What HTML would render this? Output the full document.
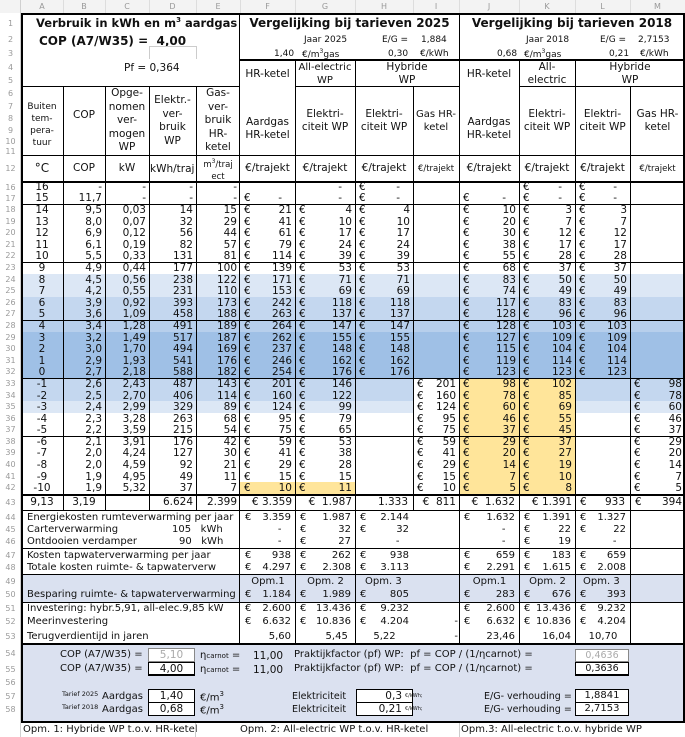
<!DOCTYPE html>
<html><head><meta charset="utf-8"><style>
body{margin:0}
#p{position:relative;width:685px;height:737px;overflow:hidden;background:#fff;font-family:"DejaVu Sans","Liberation Sans",sans-serif;font-size:10px;color:#111}
.a{position:absolute;white-space:nowrap;line-height:1}
.rw{display:grid;grid-template-columns:21px 42px 42px 44px 47px 44px 55px 60px 58px 46px 60px 56px 55px 55px}
.rw>div{overflow:hidden;white-space:nowrap;box-sizing:border-box}
.rw>div:first-child{background:#fff;color:#9a9a9a;font-size:8px;text-align:center}
.rw>div:nth-child(2){text-align:center}
.n>div:nth-child(n+3):nth-child(-n+6){text-align:right;padding-right:3px}
.n>div:nth-child(n+7){display:flex;justify-content:space-between;padding:0 3px 0 4px}
.dd .rw{height:11.6px;line-height:12px;font-size:10.5px}
.v{position:absolute;width:1px;background:#000}
.h{position:absolute;height:1px;background:#000}
.cl{position:absolute;top:0;height:13px;line-height:13px;font-size:8px;color:#999;text-align:center}
.rn{position:absolute;left:0;width:21px;text-align:center;font-size:8px;color:#9a9a9a}
.c{position:absolute;text-align:center;line-height:13px;font-size:10.5px;white-space:nowrap}
.bx{position:absolute;border:1px solid #000;box-sizing:border-box;text-align:center;font-size:10.5px;line-height:12px;background:#fff}
.lo{display:grid;grid-template-columns:21px 219px 55px 60px 58px 46px 60px 56px 55px 55px}
.lo>div{overflow:hidden;white-space:nowrap;box-sizing:border-box}
.lo>div:first-child{color:#9a9a9a;font-size:8px;text-align:center}
.lo>div:nth-child(2){padding-left:6px}
.lo>div:nth-child(n+3){display:flex;justify-content:space-between;padding:0 4px 0 5px}
</style></head><body><div id="p">

<div style="position:absolute;left:0;top:0;width:685px;height:13px;background:#f3f3f3"></div>
<div class="cl" style="left:21px;width:42px">A</div><div class="cl" style="left:63px;width:42px">B</div><div class="cl" style="left:105px;width:44px">C</div><div class="cl" style="left:149px;width:47px">D</div><div class="cl" style="left:196px;width:44px">E</div><div class="cl" style="left:240px;width:55px">F</div><div class="cl" style="left:295px;width:60px">G</div><div class="cl" style="left:355px;width:58px">H</div><div class="cl" style="left:413px;width:46px">I</div><div class="cl" style="left:459px;width:60px">J</div><div class="cl" style="left:519px;width:56px">K</div><div class="cl" style="left:575px;width:55px">L</div><div class="cl" style="left:630px;width:55px">M</div>

<div class="rn" style="top:19px">1</div><div class="rn" style="top:35px">2</div><div class="rn" style="top:49px">3</div><div class="rn" style="top:63px">4</div><div class="rn" style="top:76px">5</div><div class="rn" style="top:89px">6</div><div class="rn" style="top:102px">7</div><div class="rn" style="top:114px">8</div><div class="rn" style="top:126px">9</div><div class="rn" style="top:137px">10</div><div class="rn" style="top:147px">11</div><div class="rn" style="top:164px">12</div>
<div class="rn" style="top:649px">54</div><div class="rn" style="top:665px">55</div><div class="rn" style="top:678px">56</div><div class="rn" style="top:692px">57</div><div class="rn" style="top:705px">58</div>

<div class="a" style="left:36px;top:17px;font-weight:bold;font-size:11.5px">Verbruik in kWh en m<sup style="font-size:7px">3</sup> aardgas</div>
<div class="a" style="left:39px;top:35px;font-weight:bold;font-size:12px">COP (A7/W35) =&nbsp; 4,00</div>
<div class="a" style="left:124px;top:63px;font-size:10.5px">Pf = 0,364</div>
<div class="a" style="left:240px;top:17px;width:219px;text-align:center;font-weight:bold;font-size:12px">Vergelijking bij tarieven 2025</div>
<div class="a" style="left:459px;top:17px;width:226px;text-align:center;font-weight:bold;font-size:12px">Vergelijking bij tarieven 2018</div>
<div class="a" style="left:304px;top:36px;font-size:9px">Jaar 2025</div>
<div class="a" style="left:382px;top:36px;font-size:9px">E/G =</div>
<div class="a" style="left:421px;top:36px;font-size:9px">1,884</div>
<div class="a" style="left:274px;top:50px;font-size:9px">1,40</div>
<div class="a" style="left:302px;top:49px;font-size:9px">€/m<sup style="font-size:6px">3</sup>gas</div>
<div class="a" style="left:388px;top:50px;font-size:9px">0,30</div>
<div class="a" style="left:420px;top:50px;font-size:9px">€/kWh</div>
<div class="a" style="left:526px;top:36px;font-size:9px">Jaar 2018</div>
<div class="a" style="left:600px;top:36px;font-size:9px">E/G =</div>
<div class="a" style="left:638px;top:36px;font-size:9px">2,7153</div>
<div class="a" style="left:497px;top:50px;font-size:9px">0,68</div>
<div class="a" style="left:524px;top:49px;font-size:9px">€/m<sup style="font-size:6px">3</sup>gas</div>
<div class="a" style="left:609px;top:50px;font-size:9px">0,21</div>
<div class="a" style="left:640px;top:50px;font-size:9px">€/kWh</div>

<div class="c" style="left:240px;top:68px;width:55px">HR-ketel</div>
<div class="c" style="left:240px;top:116px;width:55px">Aardgas<br>HR-ketel</div>
<div class="c" style="left:295px;top:61px;width:60px;font-size:10px">All-electric<br>WP</div>
<div class="c" style="left:295px;top:108px;width:60px">Elektri-<br>citeit WP</div>
<div class="c" style="left:355px;top:61px;width:104px">Hybride<br>WP</div>
<div class="c" style="left:355px;top:108px;width:58px">Elektri-<br>citeit WP</div>
<div class="c" style="left:413px;top:108px;width:46px;font-size:10px">Gas HR-<br>ketel</div>
<div class="c" style="left:459px;top:68px;width:60px">HR-ketel</div>
<div class="c" style="left:459px;top:116px;width:60px">Aardgas<br>HR-ketel</div>
<div class="c" style="left:519px;top:61px;width:56px">All-<br>electric</div>
<div class="c" style="left:519px;top:108px;width:56px">Elektri-<br>citeit WP</div>
<div class="c" style="left:575px;top:61px;width:110px">Hybride<br>WP</div>
<div class="c" style="left:575px;top:108px;width:55px">Elektri-<br>citeit WP</div>
<div class="c" style="left:630px;top:108px;width:55px">Gas HR-<br>ketel</div>
<div class="c" style="left:21px;top:101px;width:42px;font-size:9px;line-height:12px">Buiten<br>tem-<br>pera-<br>tuur</div>
<div class="c" style="left:63px;top:109px;width:42px">COP</div>
<div class="c" style="left:105px;top:87px;width:44px;font-size:10.5px;line-height:13.5px">Opge-<br>nomen<br>ver-<br>mogen<br>WP</div>
<div class="c" style="left:149px;top:94px;width:47px;font-size:10.5px;line-height:13.5px">Elektr.-<br>ver-<br>bruik<br>WP</div>
<div class="c" style="left:196px;top:87px;width:44px;font-size:10.5px;line-height:13.5px">Gas-<br>ver-<br>bruik<br>HR-<br>ketel</div>
<div class="c" style="left:21px;top:162px;width:42px;font-size:12px">°C</div>
<div class="c" style="left:63px;top:162px;width:42px">COP</div>
<div class="c" style="left:105px;top:162px;width:44px">kW</div>
<div class="a" style="left:150px;top:164px;width:46px;overflow:hidden;font-size:10.5px">kWh/traj</div>
<div class="c" style="left:196px;top:156px;width:44px;font-size:8.5px;line-height:12px">m<sup style="font-size:6px">3</sup>/traj<br>ect</div>
<div class="c" style="left:240px;top:162px;width:55px">€/trajekt</div>
<div class="c" style="left:295px;top:162px;width:60px">€/trajekt</div>
<div class="c" style="left:355px;top:162px;width:58px">€/trajekt</div>
<div class="c" style="left:413px;top:163px;width:46px;font-size:8.5px">€/trajekt</div>
<div class="c" style="left:459px;top:162px;width:60px">€/trajekt</div>
<div class="c" style="left:519px;top:162px;width:56px">€/trajekt</div>
<div class="c" style="left:575px;top:162px;width:55px">€/trajekt</div>
<div class="c" style="left:630px;top:163px;width:55px;font-size:8.5px">€/trajekt</div>

<div class="dd" style="position:absolute;left:0;top:182px">
<div class="rw n" style="height:11px;line-height:11px"><div>16</div><div>16</div><div>-</div><div>-</div><div>-</div><div>-</div><div></div><div><span></span><span>-&nbsp;&nbsp;&nbsp;</span></div><div><span>€</span><span>-&nbsp;&nbsp;&nbsp;</span></div><div></div><div></div><div><span>€</span><span>-&nbsp;&nbsp;&nbsp;</span></div><div><span>€</span><span>-&nbsp;&nbsp;&nbsp;</span></div><div></div></div>
<div class="rw n" style="height:11px;line-height:11px"><div>17</div><div>15</div><div>11,7</div><div>-</div><div>-</div><div>-</div><div><span>€</span><span>-&nbsp;&nbsp;&nbsp;</span></div><div><span></span><span>-&nbsp;&nbsp;&nbsp;</span></div><div><span>€</span><span>-&nbsp;&nbsp;&nbsp;</span></div><div></div><div><span>€</span><span>-&nbsp;&nbsp;&nbsp;</span></div><div><span>€</span><span>-&nbsp;&nbsp;&nbsp;</span></div><div><span>€</span><span>-&nbsp;&nbsp;&nbsp;</span></div><div></div></div>
<div class="rw n"><div>18</div><div>14</div><div>9,5</div><div>0,03</div><div>14</div><div>15</div><div><span>€</span>21</div><div><span>€</span>4</div><div><span>€</span>4</div><div></div><div><span>€</span>10</div><div><span>€</span>3</div><div><span>€</span>3</div><div></div></div>
<div class="rw n"><div>19</div><div>13</div><div>8,0</div><div>0,07</div><div>32</div><div>29</div><div><span>€</span>41</div><div><span>€</span>10</div><div><span>€</span>10</div><div></div><div><span>€</span>20</div><div><span>€</span>7</div><div><span>€</span>7</div><div></div></div>
<div class="rw n"><div>20</div><div>12</div><div>6,9</div><div>0,12</div><div>56</div><div>44</div><div><span>€</span>61</div><div><span>€</span>17</div><div><span>€</span>17</div><div></div><div><span>€</span>30</div><div><span>€</span>12</div><div><span>€</span>12</div><div></div></div>
<div class="rw n"><div>21</div><div>11</div><div>6,1</div><div>0,19</div><div>82</div><div>57</div><div><span>€</span>79</div><div><span>€</span>24</div><div><span>€</span>24</div><div></div><div><span>€</span>38</div><div><span>€</span>17</div><div><span>€</span>17</div><div></div></div>
<div class="rw n"><div>22</div><div>10</div><div>5,5</div><div>0,33</div><div>131</div><div>81</div><div><span>€</span>114</div><div><span>€</span>39</div><div><span>€</span>39</div><div></div><div><span>€</span>55</div><div><span>€</span>28</div><div><span>€</span>28</div><div></div></div>
<div class="rw n"><div>23</div><div>9</div><div>4,9</div><div>0,44</div><div>177</div><div>100</div><div><span>€</span>139</div><div><span>€</span>53</div><div><span>€</span>53</div><div></div><div><span>€</span>68</div><div><span>€</span>37</div><div><span>€</span>37</div><div></div></div>
<div class="rw n" style="background:#dce7f5"><div>24</div><div>8</div><div>4,5</div><div>0,56</div><div>238</div><div>122</div><div><span>€</span>171</div><div><span>€</span>71</div><div><span>€</span>71</div><div></div><div><span>€</span>83</div><div><span>€</span>50</div><div><span>€</span>50</div><div></div></div>
<div class="rw n" style="background:#dce7f5"><div>25</div><div>7</div><div>4,2</div><div>0,55</div><div>231</div><div>110</div><div><span>€</span>153</div><div><span>€</span>69</div><div><span>€</span>69</div><div></div><div><span>€</span>74</div><div><span>€</span>49</div><div><span>€</span>49</div><div></div></div>
<div class="rw n" style="background:#c4d7ef"><div>26</div><div>6</div><div>3,9</div><div>0,92</div><div>393</div><div>173</div><div><span>€</span>242</div><div><span>€</span>118</div><div><span>€</span>118</div><div></div><div><span>€</span>117</div><div><span>€</span>83</div><div><span>€</span>83</div><div></div></div>
<div class="rw n" style="background:#c4d7ef"><div>27</div><div>5</div><div>3,6</div><div>1,09</div><div>458</div><div>188</div><div><span>€</span>263</div><div><span>€</span>137</div><div><span>€</span>137</div><div></div><div><span>€</span>128</div><div><span>€</span>96</div><div><span>€</span>96</div><div></div></div>
<div class="rw n" style="background:#b7cfec"><div>28</div><div>4</div><div>3,4</div><div>1,28</div><div>491</div><div>189</div><div><span>€</span>264</div><div><span>€</span>147</div><div><span>€</span>147</div><div></div><div><span>€</span>128</div><div><span>€</span>103</div><div><span>€</span>103</div><div></div></div>
<div class="rw n" style="background:#9fc0e6"><div>29</div><div>3</div><div>3,2</div><div>1,49</div><div>517</div><div>187</div><div><span>€</span>262</div><div><span>€</span>155</div><div><span>€</span>155</div><div></div><div><span>€</span>127</div><div><span>€</span>109</div><div><span>€</span>109</div><div></div></div>
<div class="rw n" style="background:#9fc0e6"><div>30</div><div>2</div><div>3,0</div><div>1,70</div><div>494</div><div>169</div><div><span>€</span>237</div><div><span>€</span>148</div><div><span>€</span>148</div><div></div><div><span>€</span>115</div><div><span>€</span>104</div><div><span>€</span>104</div><div></div></div>
<div class="rw n" style="background:#9fc0e6"><div>31</div><div>1</div><div>2,9</div><div>1,93</div><div>541</div><div>176</div><div><span>€</span>246</div><div><span>€</span>162</div><div><span>€</span>162</div><div></div><div><span>€</span>119</div><div><span>€</span>114</div><div><span>€</span>114</div><div></div></div>
<div class="rw n" style="background:#9fc0e6"><div>32</div><div>0</div><div>2,7</div><div>2,18</div><div>588</div><div>182</div><div><span>€</span>254</div><div><span>€</span>176</div><div><span>€</span>176</div><div></div><div><span>€</span>123</div><div><span>€</span>123</div><div><span>€</span>123</div><div></div></div>
<div class="rw n" style="background:#c4d7ef"><div>33</div><div>-1</div><div>2,6</div><div>2,43</div><div>487</div><div>143</div><div><span>€</span>201</div><div><span>€</span>146</div><div></div><div style="background:#fff"><span>€</span>201</div><div style="background:#ffe59a"><span>€</span>98</div><div style="background:#ffe59a"><span>€</span>102</div><div></div><div><span>€</span>98</div></div>
<div class="rw n" style="background:#c4d7ef"><div>34</div><div>-2</div><div>2,5</div><div>2,70</div><div>406</div><div>114</div><div><span>€</span>160</div><div><span>€</span>122</div><div></div><div style="background:#fff"><span>€</span>160</div><div style="background:#ffe59a"><span>€</span>78</div><div style="background:#ffe59a"><span>€</span>85</div><div></div><div><span>€</span>78</div></div>
<div class="rw n" style="background:#dce7f5"><div>35</div><div>-3</div><div>2,4</div><div>2,99</div><div>329</div><div>89</div><div><span>€</span>124</div><div><span>€</span>99</div><div></div><div style="background:#fff"><span>€</span>124</div><div style="background:#ffe59a"><span>€</span>60</div><div style="background:#ffe59a"><span>€</span>69</div><div></div><div><span>€</span>60</div></div>
<div class="rw n"><div>36</div><div>-4</div><div>2,3</div><div>3,28</div><div>263</div><div>68</div><div><span>€</span>95</div><div><span>€</span>79</div><div></div><div><span>€</span>95</div><div style="background:#ffe59a"><span>€</span>46</div><div style="background:#ffe59a"><span>€</span>55</div><div></div><div><span>€</span>46</div></div>
<div class="rw n"><div>37</div><div>-5</div><div>2,2</div><div>3,59</div><div>215</div><div>54</div><div><span>€</span>75</div><div><span>€</span>65</div><div></div><div><span>€</span>75</div><div style="background:#ffe59a"><span>€</span>37</div><div style="background:#ffe59a"><span>€</span>45</div><div></div><div><span>€</span>37</div></div>
<div class="rw n"><div>38</div><div>-6</div><div>2,1</div><div>3,91</div><div>176</div><div>42</div><div><span>€</span>59</div><div><span>€</span>53</div><div></div><div><span>€</span>59</div><div style="background:#ffe59a"><span>€</span>29</div><div style="background:#ffe59a"><span>€</span>37</div><div></div><div><span>€</span>29</div></div>
<div class="rw n"><div>39</div><div>-7</div><div>2,0</div><div>4,24</div><div>127</div><div>30</div><div><span>€</span>41</div><div><span>€</span>38</div><div></div><div><span>€</span>41</div><div style="background:#ffe59a"><span>€</span>20</div><div style="background:#ffe59a"><span>€</span>27</div><div></div><div><span>€</span>20</div></div>
<div class="rw n"><div>40</div><div>-8</div><div>2,0</div><div>4,59</div><div>92</div><div>21</div><div><span>€</span>29</div><div><span>€</span>28</div><div></div><div><span>€</span>29</div><div style="background:#ffe59a"><span>€</span>14</div><div style="background:#ffe59a"><span>€</span>19</div><div></div><div><span>€</span>14</div></div>
<div class="rw n"><div>41</div><div>-9</div><div>1,9</div><div>4,95</div><div>49</div><div>11</div><div><span>€</span>15</div><div><span>€</span>15</div><div></div><div><span>€</span>15</div><div style="background:#ffe59a"><span>€</span>7</div><div style="background:#ffe59a"><span>€</span>10</div><div></div><div><span>€</span>7</div></div>
<div class="rw n"><div>42</div><div>-10</div><div>1,9</div><div>5,32</div><div>37</div><div>7</div><div style="background:#ffe59a"><span>€</span>10</div><div style="background:#ffe59a"><span>€</span>11</div><div></div><div><span>€</span>10</div><div style="background:#ffe59a"><span>€</span>5</div><div style="background:#ffe59a"><span>€</span>8</div><div></div><div><span>€</span>5</div></div>
</div>

<div style="position:absolute;left:0;top:494px;font-size:10.5px">
<div class="rw" style="height:16px;line-height:17px"><div>43</div><div>9,13</div><div style="text-align:center">3,19</div><div></div><div style="text-align:right;padding-right:3px">6.624</div><div style="text-align:right;padding-right:3px">2.399</div><div style="text-align:right;padding-right:3px">€ 3.359</div><div style="text-align:right;padding-right:3px">€&nbsp; 1.987</div><div style="text-align:right;padding-right:5px">1.333</div><div style="text-align:right;padding-right:3px">€&nbsp; 811</div><div style="text-align:right;padding-right:4px">€&nbsp; 1.632</div><div style="text-align:right;padding-right:3px">€ 1.391</div><div style="display:flex;justify-content:space-between;padding:0 5px 0 5px"><span>€</span>933</div><div style="display:flex;justify-content:space-between;padding:0 3px 0 5px"><span>€</span>394</div></div>
</div>
<div style="position:absolute;left:0;top:510px;font-size:10px">
<div class="lo" style="height:14px;line-height:15px"><div>44</div><div>Energiekosten rumteverwarming per jaar</div><div><span>€</span>3.359</div><div><span>€</span>1.987</div><div><span>€</span>2.144</div><div></div><div><span>€</span>1.632</div><div><span>€</span>1.391</div><div><span>€</span>1.327</div><div></div></div>
<div class="lo" style="height:11px;line-height:12px"><div>45</div><div>Carterverwarming<span style="padding-left:54px">105&nbsp;&nbsp; kWh</span></div><div><span></span>-&nbsp;&nbsp;&nbsp;</div><div><span>€</span>32</div><div><span>€</span>32</div><div></div><div><span></span>-&nbsp;&nbsp;&nbsp;</div><div><span>€</span>22</div><div><span>€</span>22</div><div></div></div>
<div class="lo" style="height:13px;line-height:13px"><div>46</div><div>Ontdooien verdamper<span style="padding-left:42px">90&nbsp;&nbsp; kWh</span></div><div><span></span>-&nbsp;&nbsp;&nbsp;</div><div><span>€</span>27</div><div><span></span>-&nbsp;&nbsp;&nbsp;</div><div></div><div><span></span>-&nbsp;&nbsp;&nbsp;</div><div><span>€</span>19</div><div><span></span>-&nbsp;&nbsp;&nbsp;</div><div></div></div>
<div class="lo" style="height:14px;line-height:15px"><div>47</div><div>Kosten tapwaterverwarming per jaar</div><div><span>€</span>938</div><div><span>€</span>262</div><div><span>€</span>938</div><div></div><div><span>€</span>659</div><div><span>€</span>183</div><div><span>€</span>659</div><div></div></div>
<div class="lo" style="height:12px;line-height:12px"><div>48</div><div>Totale kosten ruimte- &amp; tapwaterverw</div><div><span>€</span>4.297</div><div><span>€</span>2.308</div><div><span>€</span>3.113</div><div></div><div><span>€</span>2.291</div><div><span>€</span>1.615</div><div><span>€</span>2.008</div><div></div></div>
<div class="lo" style="height:14px;line-height:15px;background:#dae1f0"><div style="background:#fff">49</div><div></div><div style="justify-content:center">Opm.1</div><div style="justify-content:center">Opm. 2</div><div style="justify-content:flex-start;padding-left:10px">Opm. 3</div><div></div><div style="justify-content:center">Opm.1</div><div style="justify-content:center">Opm. 2</div><div style="justify-content:flex-start;padding-left:8px">Opm. 3</div><div></div></div>
<div class="lo" style="height:14px;line-height:14px;background:#dae1f0"><div style="background:#fff">50</div><div>Besparing ruimte- &amp; tapwaterverwarming</div><div><span>€</span>1.184</div><div><span>€</span>1.989</div><div><span>€</span>805</div><div></div><div><span>€</span>283</div><div><span>€</span>676</div><div><span>€</span>393</div><div></div></div>
<div class="lo" style="height:13px;line-height:14px"><div>51</div><div>Investering: hybr.5,91, all-elec.9,85 kW</div><div><span>€</span>2.600</div><div><span>€</span>13.436</div><div><span>€</span>9.232</div><div></div><div><span>€</span>2.600</div><div><span>€</span>13.436</div><div><span>€</span>9.232</div><div></div></div>
<div class="lo" style="height:14px;line-height:14px"><div>52</div><div>Meerinvestering</div><div><span>€</span>6.632</div><div><span>€</span>10.836</div><div><span>€</span>4.204</div><div style="padding-right:1px"><span></span>-</div><div><span>€</span>6.632</div><div><span>€</span>10.836</div><div><span>€</span>4.204</div><div></div></div>
<div class="lo" style="height:15px;line-height:15px"><div>53</div><div>Terugverdientijd in jaren</div><div><span></span>5,60</div><div><span></span>5,45&nbsp;</div><div style="justify-content:center">5,22</div><div style="padding-right:1px"><span></span>-</div><div><span></span>23,46</div><div><span></span>16,04</div><div style="justify-content:center">10,70</div><div></div></div>
</div>

<div style="position:absolute;left:21px;top:644px;width:664px;height:78px;background:#dbe1f0"></div>
<div class="a" style="left:60px;top:650px;font-size:10px">COP (A7/W35) =</div>
<div class="a" style="left:60px;top:664px;font-size:10px">COP (A7/W35) =</div>
<div class="bx" style="left:148px;top:648px;width:47px;height:14px;color:#aaa;border-color:#888">5,10</div>
<div class="bx" style="left:148px;top:662px;width:47px;height:14px;border-width:1px 1px 2px 1px">4,00</div>
<div class="a" style="left:200px;top:651px;font-size:10px">η<span style="font-size:7px">carnot</span> =</div>
<div class="a" style="left:200px;top:665px;font-size:10px">η<span style="font-size:7px">carnot</span> =</div>
<div class="a" style="left:253px;top:651px;font-size:10.5px">11,00</div>
<div class="a" style="left:253px;top:665px;font-size:10.5px">11,00</div>
<div class="a" style="left:294px;top:650px;font-size:10px">Praktijkfactor (pf) WP:&nbsp; pf = COP / (1/ηcarnot) =</div>
<div class="a" style="left:294px;top:664px;font-size:10px">Praktijkfactor (pf) WP:&nbsp; pf = COP / (1/ηcarnot) =</div>
<div class="bx" style="left:575px;top:649px;width:54px;height:13px;color:#aaa;border-color:#888;font-size:9.5px">0,4636</div>
<div class="bx" style="left:575px;top:662px;width:54px;height:14px;border-width:1px 1px 2px 1px;font-size:9.5px">0,3636</div>
<div class="a" style="left:62px;top:691px;font-size:6.5px">Tarief 2025</div>
<div class="a" style="left:62px;top:704px;font-size:6.5px">Tarief 2018</div>
<div class="a" style="left:102px;top:692px;font-size:10px">Aardgas</div>
<div class="a" style="left:102px;top:705px;font-size:10px">Aardgas</div>
<div class="bx" style="left:148px;top:689px;width:47px;height:14px">1,40</div>
<div class="bx" style="left:148px;top:702px;width:47px;height:14px">0,68</div>
<div class="a" style="left:200px;top:691px;font-size:10px">€/m<sup style="font-size:7px">3</sup></div>
<div class="a" style="left:200px;top:704px;font-size:10px">€/m<sup style="font-size:7px">3</sup></div>
<div class="a" style="left:292px;top:692px;font-size:9.5px">Elektriciteit</div>
<div class="a" style="left:292px;top:705px;font-size:9.5px">Elektriciteit</div>
<div class="bx" style="left:356px;top:689px;width:57px;height:14px;text-align:right;padding-right:10px">0,3</div>
<div class="bx" style="left:356px;top:702px;width:57px;height:14px;text-align:right;padding-right:10px">0,21</div>
<div class="a" style="left:405px;top:694px;font-size:5px">€/kWh;</div>
<div class="a" style="left:405px;top:707px;font-size:5px">€/kWh;</div>
<div class="a" style="left:484px;top:692px;font-size:9.5px">E/G- verhouding =</div>
<div class="a" style="left:484px;top:705px;font-size:9.5px">E/G- verhouding =</div>
<div class="bx" style="left:575px;top:689px;width:54px;height:14px;font-size:10px">1,8841</div>
<div class="bx" style="left:575px;top:702px;width:54px;height:14px;font-size:10px">2,7153</div>

<div class="a" style="left:23px;top:725px;font-size:10px">Opm. 1: Hybride WP t.o.v. HR-ketel</div>
<div class="a" style="left:240px;top:725px;font-size:10px">Opm. 2: All-electric WP t.o.v. HR-ketel</div>
<div class="a" style="left:461px;top:725px;font-size:10px">Opm.3: All-electric t.o.v. hybride WP</div>
<div class="v" style="left:195px;top:722px;height:15px;background:#ccc"></div>
<div class="v" style="left:459px;top:722px;height:15px;background:#ccc"></div>

<div class="v" style="left:149px;top:46px;height:13px;background:#ccc"></div>
<div class="v" style="left:196px;top:46px;height:13px;background:#ccc"></div>
<div class="h" style="left:149px;top:46px;width:47px;background:#ccc"></div>
<div class="v" style="left:20px;top:0;height:737px;background:#d0d0d0"></div>
<div class="v" style="left:63px;top:0;height:13px;background:#ddd"></div><div class="v" style="left:105px;top:0;height:13px;background:#ddd"></div><div class="v" style="left:149px;top:0;height:13px;background:#ddd"></div><div class="v" style="left:196px;top:0;height:13px;background:#ddd"></div><div class="v" style="left:240px;top:0;height:13px;background:#ddd"></div><div class="v" style="left:295px;top:0;height:13px;background:#ddd"></div><div class="v" style="left:355px;top:0;height:13px;background:#ddd"></div><div class="v" style="left:413px;top:0;height:13px;background:#ddd"></div><div class="v" style="left:459px;top:0;height:13px;background:#ddd"></div><div class="v" style="left:519px;top:0;height:13px;background:#ddd"></div><div class="v" style="left:575px;top:0;height:13px;background:#ddd"></div><div class="v" style="left:630px;top:0;height:13px;background:#ddd"></div>

<div class="v" style="left:21px;top:13px;height:709px;width:2px"></div>
<div class="v" style="left:683px;top:13px;height:709px;width:2px"></div>
<div class="v" style="left:239px;top:13px;height:631px"></div>
<div class="v" style="left:459px;top:13px;height:631px"></div>
<div class="v" style="left:295px;top:60px;height:584px"></div>
<div class="v" style="left:355px;top:60px;height:584px"></div>
<div class="v" style="left:519px;top:60px;height:584px"></div>
<div class="v" style="left:575px;top:60px;height:584px"></div>
<div class="v" style="left:630px;top:86px;height:558px"></div>
<div class="v" style="left:413px;top:86px;height:424px"></div>
<div class="v" style="left:63px;top:86px;height:424px"></div>
<div class="v" style="left:105px;top:86px;height:424px"></div>
<div class="v" style="left:149px;top:86px;height:424px"></div>
<div class="v" style="left:196px;top:86px;height:424px"></div>
<div class="h" style="left:21px;top:13px;width:664px;height:2px"></div>
<div class="h" style="left:240px;top:59px;width:445px;height:2px"></div>
<div class="h" style="left:21px;top:86px;width:219px"></div>
<div class="h" style="left:295px;top:86px;width:164px"></div>
<div class="h" style="left:519px;top:86px;width:166px"></div>
<div class="h" style="left:21px;top:155px;width:664px"></div>
<div class="h" style="left:21px;top:181px;width:664px;height:2px"></div>
<div class="h" style="left:21px;top:204px;width:664px"></div>
<div class="h" style="left:21px;top:262px;width:664px"></div>
<div class="h" style="left:21px;top:320px;width:664px"></div>
<div class="h" style="left:21px;top:378px;width:664px"></div>
<div class="h" style="left:21px;top:436px;width:664px"></div>
<div class="h" style="left:21px;top:494px;width:664px;height:2px"></div>
<div class="h" style="left:21px;top:510px;width:664px"></div>
<div class="h" style="left:21px;top:548px;width:664px"></div>
<div class="h" style="left:21px;top:574px;width:664px"></div>
<div class="h" style="left:21px;top:602px;width:664px"></div>
<div class="h" style="left:21px;top:643px;width:664px;height:2px"></div>
<div class="h" style="left:21px;top:721px;width:664px;height:2px"></div>
</div></body></html>
